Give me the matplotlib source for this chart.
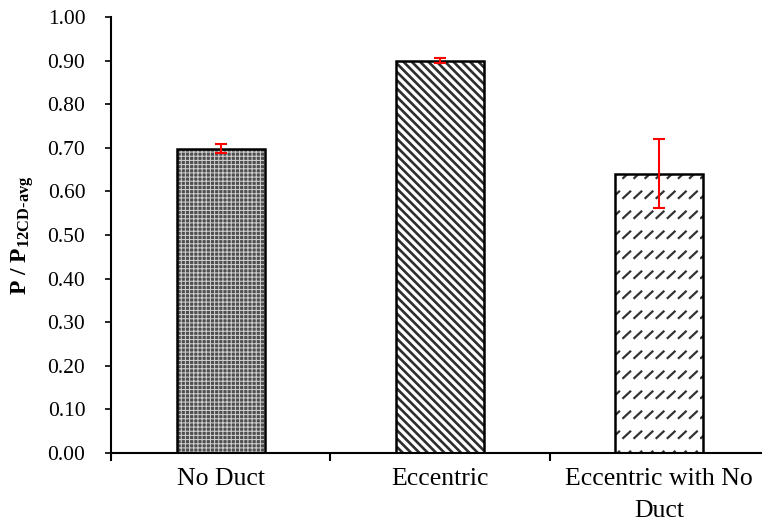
import warnings
warnings.filterwarnings("ignore")
import numpy as np
import matplotlib
matplotlib.use("Agg")
import matplotlib.pyplot as plt
from matplotlib import hatch as mhatch
from matplotlib.path import Path
from matplotlib.ticker import FixedLocator

categories = ["No Duct", "Eccentric", "Eccentric with No\nDuct"]
values = [0.698, 0.900, 0.641]
errors = [0.010, 0.006, 0.079]
yticks = [0.0, 0.1, 0.2, 0.3, 0.4, 0.5, 0.6, 0.7, 0.8, 0.9, 1.0]


class DashSlashHatch(mhatch.HatchPatternBase):
    """Rows of short '/' dashes, triggered by the 'd' character."""
    def __init__(self, hatch, density):
        self.on = 'd' in hatch
        self.nrows, self.ncols = 5, 9
        self.num_vertices = 2 * self.nrows * self.ncols if self.on else 0

    def set_vertices_and_codes(self, vertices, codes):
        k = 0
        for r in range(self.nrows):
            y0 = r / self.nrows + 0.02
            for c in range(self.ncols):
                x0 = c / self.ncols + 0.01
                vertices[k] = (x0, y0)
                vertices[k + 1] = (x0 + 0.07, y0 + 0.065)
                codes[k] = Path.MOVETO
                codes[k + 1] = Path.LINETO
                k += 2


mhatch._hatch_types.append(DashSlashHatch)

plt.rcParams['font.family'] = ['Liberation Serif', 'DejaVu Serif']
plt.rcParams['mathtext.fontset'] = 'custom'
plt.rcParams['mathtext.rm'] = 'Liberation Serif:bold'
plt.rcParams['mathtext.bf'] = 'Liberation Serif:bold'
plt.rcParams['mathtext.it'] = 'Liberation Serif:bold'

fig = plt.figure(figsize=(7.62, 5.23), dpi=100)
W, H = 762, 523
ax = fig.add_axes([111 / W, (H - 453) / H, (762 - 111) / W, (453 - 17) / H])

x = np.arange(len(categories))
width = 0.40

hatch_specs = [
    dict(facecolor='#4e4e4e', hatch='++++', hcolor='#cfcfcf', lw=0.75),
    dict(facecolor='white', hatch='\\\\\\\\', hcolor='#2e2e2e', lw=1.9),
    dict(facecolor='white', hatch='d', hcolor='#333333', lw=1.6),
]

for i in range(len(categories)):
    spec = hatch_specs[i]
    plt.rcParams['hatch.linewidth'] = spec['lw']
    ax.bar(x[i], values[i], width, color=spec['facecolor'],
           edgecolor=spec['hcolor'], hatch=spec['hatch'], linewidth=0,
           zorder=2)
    ax.bar(x[i], values[i], width, fill=False, edgecolor='black',
           linewidth=1.8, zorder=3)

ax.errorbar(x, values, yerr=errors, fmt='none', ecolor='#ff0000',
            elinewidth=1.5, capsize=4.3, capthick=1.5, zorder=4)

ax.set_xlim(-0.5, 2.5 - 7 / 219)
ax.set_ylim(0, 1.0)
ax.set_yticks(yticks)
ax.set_yticklabels([f"{t:.2f}" for t in yticks], fontsize=15.5)
ax.tick_params(axis='y', direction='out', length=4, width=1.2, pad=14.5)

ax.set_xticks(x)
ax.set_xticklabels(categories, fontsize=18.5, linespacing=1.55)
ax.tick_params(axis='x', which='major', length=0, pad=11)
ax.xaxis.set_minor_locator(FixedLocator([-0.5, 0.5, 1.5]))
ax.tick_params(axis='x', which='minor', direction='out', length=6, width=1.5)

for s in ['top', 'right']:
    ax.spines[s].set_visible(False)
for s in ['left', 'bottom']:
    ax.spines[s].set_linewidth(1.5)

ax.set_ylabel(r'P / P$_{12CD\text{-}avg}$', fontsize=17, fontweight='bold',
              labelpad=8)

fig.savefig('out.png', dpi=100)
